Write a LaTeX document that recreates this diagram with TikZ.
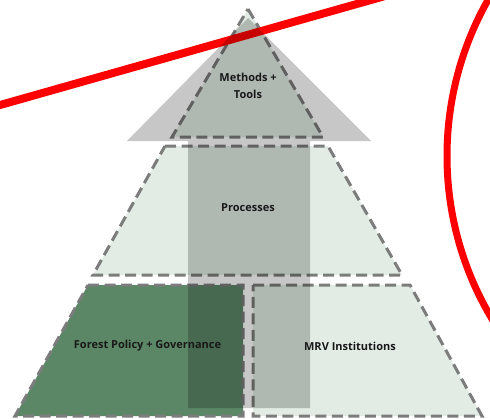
\documentclass[tikz,border=0pt]{standalone}
\usepackage{fontspec}
\setmainfont{Open Sans}
\definecolor{lightgr}{HTML}{E2ECE5}
\definecolor{darkgr}{HTML}{5B8766}
\definecolor{dashgr}{HTML}{7C7C7C}
\tikzset{
  tier/.style={draw=dashgr, line width=3pt, dash pattern=on 11pt off 5.5pt, line join=miter},
  lbl/.style={font=\bfseries\fontsize{11}{17}\selectfont, text=black!90, align=center, inner sep=0pt},
  redline/.style={draw=red, line width=8pt},
  bigarrow/.style={fill=black, fill opacity=0.22}
}
\begin{document}
\begin{tikzpicture}[x=1pt,y=-1pt]
\useasboundingbox (0,0) rectangle (490,418);
\clip (0,0) rectangle (490,418);
% tiers
\draw[tier, fill=lightgr] (248,9) -- (323,137) -- (172,137) -- cycle;
\draw[tier, fill=lightgr] (165,146) -- (328,146) -- (402,275) -- (93,275) -- cycle;
\draw[tier, fill=darkgr] (88,285) -- (243,285) -- (243,416) -- (15,416) -- cycle;
\draw[tier, fill=lightgr] (253,285) -- (410,285) -- (482,416) -- (253,416) -- cycle;
% red marks
\coordinate (r1) at (-20,110.7);
\coordinate (r2) at (420,-13.9);
\draw[redline] (r1) -- (r2);
\draw[draw=red, line width=7pt] (764,156) circle (317);
% big arrow
\fill[bigarrow] (188,408) -- (188,141) -- (127,141) -- (248,18) -- (371,141) -- (310,141) -- (310,408) -- cycle;
% labels
\node[lbl] (mt) at (248,85.5) {Methods +\\Tools};
\node[lbl] (pr) at (248,208) {Processes};
\node[lbl] (fp) at (147.5,346) {Forest Policy + Governance};
\node[lbl] (mrv) at (350,346) {MRV Institutions};
\end{tikzpicture}
\end{document}
